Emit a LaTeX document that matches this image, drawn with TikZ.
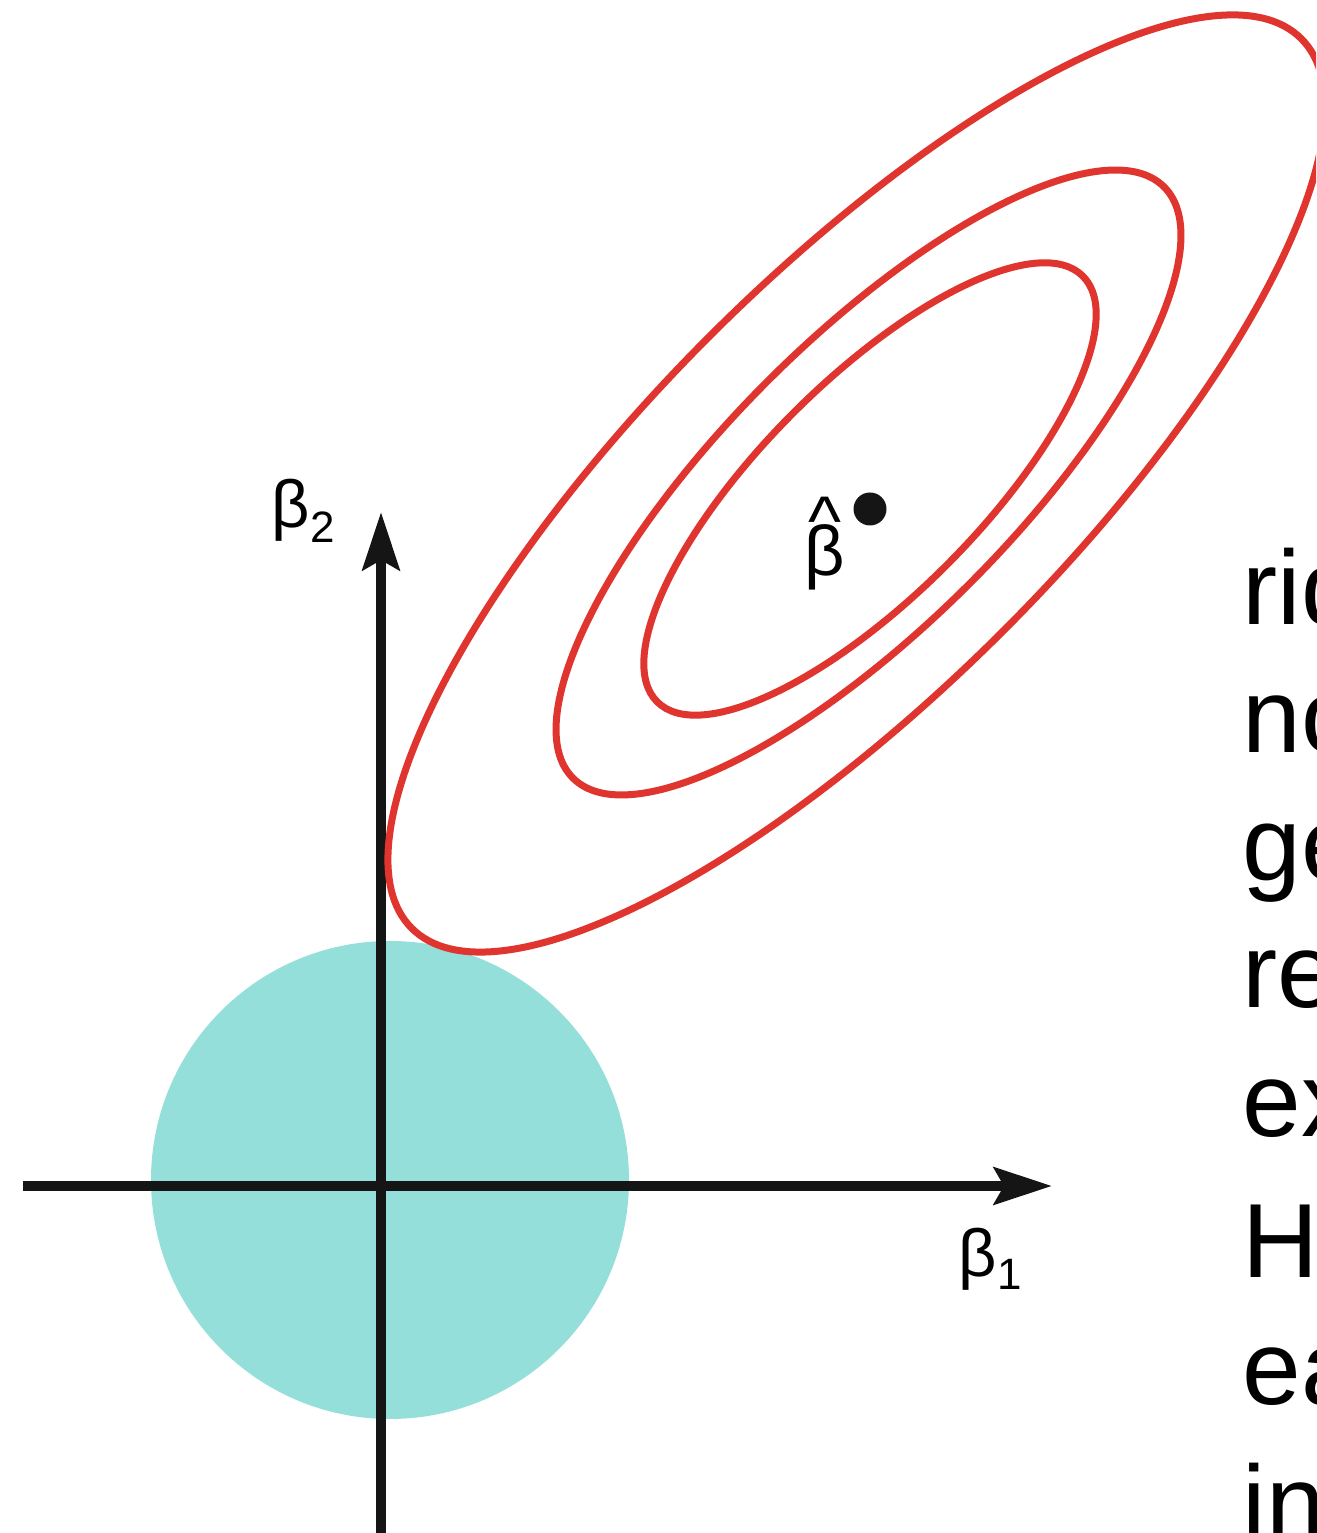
\documentclass[tikz,border=0pt]{standalone}
\usepackage{fontspec}
\setmainfont{Liberation Sans}
\usepackage{tikz}
\usetikzlibrary{arrows.meta,positioning}
\definecolor{contourred}{RGB}{224,52,46}
\definecolor{ballcyan}{RGB}{148,223,218}
\definecolor{axisblack}{RGB}{21,21,21}

\begin{document}
\begin{tikzpicture}[
    axis/.style={draw=axisblack, line width=0.1cm, -{Stealth[length=0.58cm, width=0.37cm, inset=0.1cm]}},
    contour/.style={draw=contourred, line width=0.07cm},
    ball/.style={fill=ballcyan},
    lbl/.style={inner sep=0pt, anchor=base west, font=\fontsize{19}{19}\selectfont},
    txt/.style={inner sep=0pt, anchor=base west, font=\fontsize{30}{30}\selectfont}
  ]
    \clip (0,0) rectangle (13.16,15.33);

    % Constraint region
    \fill[ball] (3.90,3.53) circle (2.39);

    % Axes
    \coordinate (xl) at (0.23,3.47);
    \coordinate (xr) at (10.52,3.47);
    \coordinate (yb) at (3.81,0);
    \coordinate (yt) at (3.81,10.21);
    \draw[axis] (xl) -- (xr);
    \draw[axis] (yb) -- (yt);
    \node[lbl] (b1) at (9.58,2.56) {β\raisebox{-0.13cm}{\fontsize{12.5}{12.5}\selectfont 1}};
    \node[lbl] (b2) at (2.71,10.05) {β\raisebox{-0.15cm}{\fontsize{12.5}{12.5}\selectfont 2}};

    % RSS contours
    \draw[contour, rotate around={45:(8.70,10.44)}] (8.70,10.44) ellipse (3.01 and 1.08);
    \draw[contour, rotate around={45:(8.685,10.505)}] (8.685,10.505) ellipse (4.18 and 1.43);
    \draw[contour, rotate around={45:(8.565,10.495)}] (8.565,10.495) ellipse (6.29 and 2.08);

    % Least squares estimate
    \fill[axisblack] (8.70,10.24) circle (0.165) coordinate (ls);
    \node[lbl, font=\fontsize{20}{24}\selectfont] (bhat) at (8.04,9.57)
      {\begin{tabular}[b]{@{}c@{}}\textasciicircum\\[-15.2pt]β\end{tabular}};

    % Cut-off text on the right
    \node[txt] (t1) at (12.42,9.08) {rid};
    \node[txt] (t2) at (12.42,7.80) {no};
    \node[txt] (t3) at (12.42,6.52) {ge};
    \node[txt] (t4) at (12.42,5.25) {re};
    \node[txt] (t5) at (12.42,3.96) {ex};
    \node[txt] (t6) at (12.42,2.55) {H};
    \node[txt] (t7) at (12.42,1.28) {ea};
    \node[txt] (t8) at (12.42,-0.07) {in};
\end{tikzpicture}
\end{document}
